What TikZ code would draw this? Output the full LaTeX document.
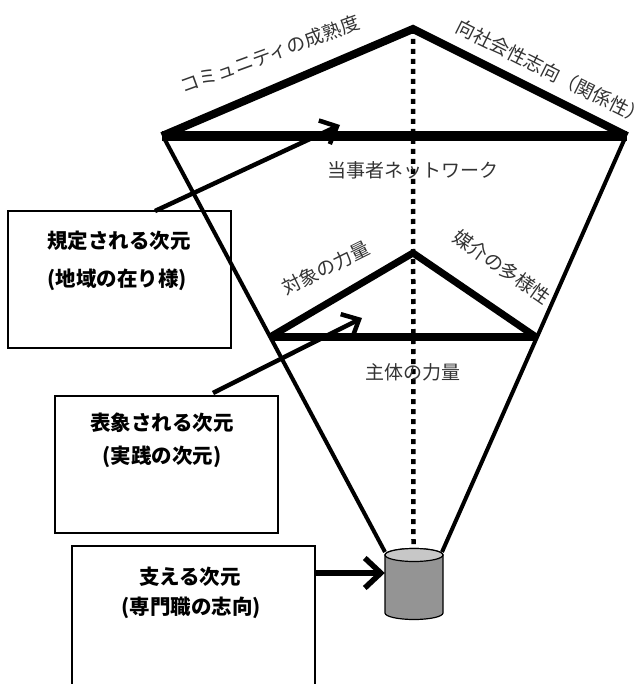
\documentclass[tikz,border=0pt]{standalone}
\usepackage{fontspec}
\newfontfamily\jp{Noto Sans CJK JP}
\usetikzlibrary{arrows.meta}
\begin{document}
\begin{tikzpicture}[x=1pt,y=-1pt,
  lbl/.style={font=\jp\fontsize{19}{19}\selectfont, text=black!80, inner sep=0pt},
  boxtxt/.style={font=\jp\bfseries\fontsize{20.5}{21}\selectfont, inner sep=0pt},
  framebox/.style={draw, line width=1.4pt, inner sep=0pt},
  outerside/.style={line width=8pt, line join=miter, miter limit=20},
  outerbase/.style={line width=10pt},
  innerside/.style={line width=7pt, line join=miter, miter limit=20},
  innerbase/.style={line width=8pt},
  cone/.style={line width=4pt},
  axis/.style={line width=4.5pt, dash pattern=on 5pt off 5pt},
  ptr/.style={line width=4.5pt, -{Straight Barb[length=14pt,width=26pt]}},
  ptrbig/.style={line width=5.5pt, -{Straight Barb[length=16pt,width=30pt]}}
]
\useasboundingbox (0,0) rectangle (634,684);

% key points
\coordinate (A) at (413,29);
\coordinate (L) at (162,136);
\coordinate (R) at (627,136);
\coordinate (a) at (413,253);
\coordinate (l) at (270,337);
\coordinate (r) at (536,337);
\coordinate (cl) at (385,552);
\coordinate (cr) at (442,552);
\coordinate (cb) at (413.5,548);

% dotted axis
\draw[axis] (A) -- (cb);

% cone lines
\draw[cone] (164,138) -- (cl);
\draw[cone] (625,138) -- (cr);

% outer triangle
\draw[outerside] (L) -- (A) -- (R);
\draw[outerbase] (L) -- (R);

% inner triangle
\draw[innerside] (l) -- (a) -- (r);
\draw[innerbase] (l) -- (r);

% cylinder
\node[inner sep=0pt, minimum width=58pt, minimum height=68pt] (cyl) at (414,586) {};
\fill[black!42, draw=black, line width=1.2pt]
  (385,555) -- (385,613) arc[start angle=180, end angle=360, x radius=29pt, y radius=6.5pt]
  -- (443,555) arc[start angle=0, end angle=180, x radius=29pt, y radius=6.5pt] -- cycle;
\draw[fill=black!22, line width=1.2pt] (414,555) ellipse[x radius=29pt, y radius=6.5pt];

% labels
\node[lbl, rotate=20] (t1) at (270,54) {コミュニティの成熟度};
\node[lbl, rotate=-26.5] (t2) at (551,72) {向社会性志向（関係性）};
\node[lbl] (t3) at (413,170) {当事者ネットワーク};
\node[lbl, rotate=26.5] (t4) at (326,268) {対象の力量};
\node[lbl, rotate=-35] (t5) at (502,267) {媒介の多様性};
\node[lbl] (t6) at (413,372) {主体の力量};

% boxes
\node[framebox, minimum width=223pt, minimum height=137pt] (b1) at (119.5,279.5) {};
\node[framebox, minimum width=223pt, minimum height=137pt] (b2) at (166.5,464.5) {};
\node[framebox, minimum width=243pt, minimum height=150pt] (b3) at (193.5,621) {};

\node[boxtxt] (b1a) at (119,241) {規定される次元};
\node[boxtxt] (b1b) at (117,280) {(地域の在り様)};
\node[boxtxt] (b2a) at (162,423) {表象される次元};
\node[boxtxt] (b2b) at (162,457) {(実践の次元)};
\node[boxtxt] (b3a) at (190,577) {支える次元};
\node[boxtxt] (b3b) at (191,608) {(専門職の志向)};

% arrows
\coordinate (p1) at (155,211);
\coordinate (q1) at (340,125);
\coordinate (p2) at (213,393);
\coordinate (q2) at (362,318);
\draw[ptr] (p1) -- (q1);
\draw[ptr] (p2) -- (q2);
\draw[ptrbig] (b3.east |- 0,573) -- (cyl.west |- 0,573);
\end{tikzpicture}
\end{document}
